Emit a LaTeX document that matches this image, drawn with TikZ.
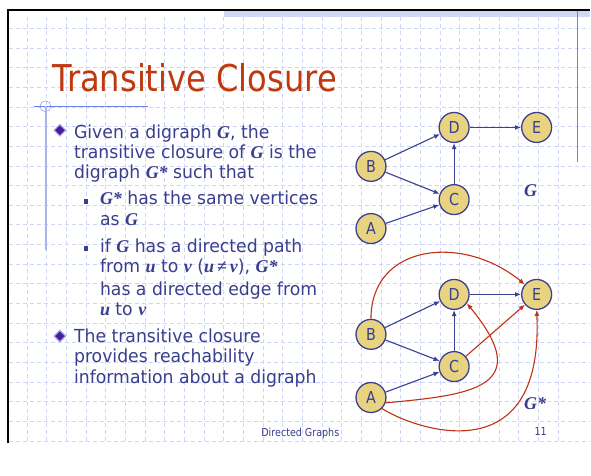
\documentclass[tikz,border=0pt]{standalone}
\usepackage{fontspec}
\usepackage{tikz}
\usetikzlibrary{positioning,arrows.meta,shapes.geometric}

\newfontfamily\bodyfont[FakeStretch=0.96]{DejaVu Sans}
\newfontfamily\titlefont[FakeStretch=0.87]{DejaVu Sans}
\newfontfamily\varfont{Liberation Serif}
\newcommand{\emv}[1]{{\varfont\bfseries\itshape #1}}

\definecolor{ink}{RGB}{58,62,142}
\definecolor{titlered}{RGB}{192,56,15}
\definecolor{gridblue}{RGB}{205,214,246}
\definecolor{rulerblue}{RGB}{110,130,230}
\definecolor{bandblue}{RGB}{208,216,246}
\definecolor{vxfill}{RGB}{232,212,128}
\definecolor{edgeblue}{RGB}{60,64,145}
\definecolor{edgered}{RGB}{190,50,20}
\definecolor{gemdark}{RGB}{70,30,160}
\definecolor{gemlight}{RGB}{175,165,235}

\begin{document}
\begin{tikzpicture}[x=1pt,y=-1pt,
  vertex/.style={circle,draw=edgeblue,fill=vxfill,line width=1.3pt,minimum size=30pt,
    inner sep=0pt,text=ink,font=\titlefont\fontsize{16.5}{16.5}\selectfont},
  arr/.style={-{Latex[length=6pt,width=5pt]},line width=1.1pt,draw=edgeblue},
  closure/.style={arr,draw=edgered},
  bodyline/.style={anchor=base west,inner sep=0pt,text=ink,
    font=\bodyfont\fontsize{18}{20}\selectfont},
  gem/.style={diamond,aspect=1,minimum size=12pt,inner sep=0pt,fill=gemdark,
    draw=gemlight,line width=1.2pt},
  subbullet/.style={rectangle,minimum size=4.5pt,inner sep=0pt,fill=ink},
  glabel/.style={inner sep=0pt,text=ink,font=\varfont\bfseries\itshape\fontsize{18}{18}\selectfont},
  small/.style={inner sep=0pt,text=ink,font=\titlefont\fontsize{11}{11}\selectfont},
  gridline/.style={gridblue,line width=0.6pt,dash pattern=on 4pt off 3pt}
]
% page, grid and frame
\fill[white] (0,0) rectangle (591,444);
\foreach \k in {0,...,27}
  \draw[gridline] ({27+19.7*\k},17.5) -- ({27+19.7*\k},444);
\foreach \k in {0,...,21}
  \draw[gridline] (9,{28.3+19.69*\k}) -- (591,{28.3+19.69*\k});
\fill[bandblue] (224,11.5) rectangle (591,17.5);
\draw[line width=2.3pt] (8,444) -- (8,10) -- (591,10);
\draw[rulerblue,line width=1.2pt] (578.3,11) -- (578.3,162);
\draw[rulerblue] (34,106.7) -- (148,106.7);
\draw[rulerblue] (45.5,106.5) circle (5.5);
\draw[rulerblue!60,line width=2pt] (45.7,106.5) -- (45.7,250);

% title
\node[anchor=base west,inner sep=0pt,text=titlered,
  font=\titlefont\fontsize{37}{40}\selectfont] (title) at (52,91.7) {Transitive Closure};

% bullets
\node[gem] (gem1) at (60,130.5) {};
\node[gem] (gem2) at (60,336.7) {};
\node[subbullet] (sq1) at (86.3,202) {};
\node[subbullet] (sq2) at (86.3,249) {};

\node[bodyline] (given) at (74,138.3) {Given a digraph \emv{G}, the};
\node[bodyline] (given2) at (74,158.7) {transitive closure of \emv{G} is the};
\node[bodyline] (given3) at (74,179) {digraph \emv{G*} such that};
\node[bodyline] (same) at (100,205) {\emv{G*} has the same vertices};
\node[bodyline] (same2) at (100,226) {as \emv{G}};
\node[bodyline] (path) at (100,252.7) {if \emv{G} has a directed path};
\node[bodyline] (path2) at (100,273.3) {from \emv{u} to \emv{v} (\emv{u}\,{\varfont\bfseries ≠}\,\emv{v}), \emv{G*}};
\node[bodyline] (path3) at (100,296) {has a directed edge from};
\node[bodyline] (path4) at (100,316) {\emv{u} to \emv{v}};
\node[bodyline] (reach) at (74,342.7) {The transitive closure};
\node[bodyline] (reach2) at (74,363.3) {provides reachability};
\node[bodyline] (reach3) at (74,384) {information about a digraph};

% footer
\node[small,anchor=base west] (footer) at (261.7,437.3) {Directed Graphs};
\node[small,anchor=base] (pagenum) at (541.7,436.7) {11};

% digraph G
\node[vertex] (D) at (455,127.7) {D};
\node[vertex] (E) at (537.7,127.7) {E};
\node[vertex] (B) at (371.7,166.7) {B};
\node[vertex] (C) at (455,200) {C};
\node[vertex] (A) at (371.7,229) {A};
\draw[arr] (B) -- (D);
\draw[arr] (B) -- (C);
\draw[arr] (A) -- (C);
\draw[arr] (C) -- (D);
\draw[arr] (D) -- (E);
\node[glabel,anchor=base west] (gname) at (525,196.7) {G};

% transitive closure G*
\node[vertex] (D2) at (455,295) {D};
\node[vertex] (E2) at (537.7,295) {E};
\node[vertex] (B2) at (371.7,335) {B};
\node[vertex] (C2) at (455,367.3) {C};
\node[vertex] (A2) at (371.7,398.3) {A};
\draw[arr] (B2) -- (D2);
\draw[arr] (B2) -- (C2);
\draw[arr] (A2) -- (C2);
\draw[arr] (C2) -- (D2);
\draw[arr] (D2) -- (E2);
\draw[closure] (C2) -- (E2);
\draw[closure] (B2.north) .. controls +(0,-75) and +(-62,-51) .. (E2.140);
\draw[closure] (A2.-20) .. controls +(85,-8) and +(70,85) .. (D2.-35);
\draw[closure] (A2.-45) .. controls +(33,21) and +(7,165) .. (E2.south);
\node[glabel,anchor=base west] (gstar) at (525,410) {G*};
\end{tikzpicture}
\end{document}
